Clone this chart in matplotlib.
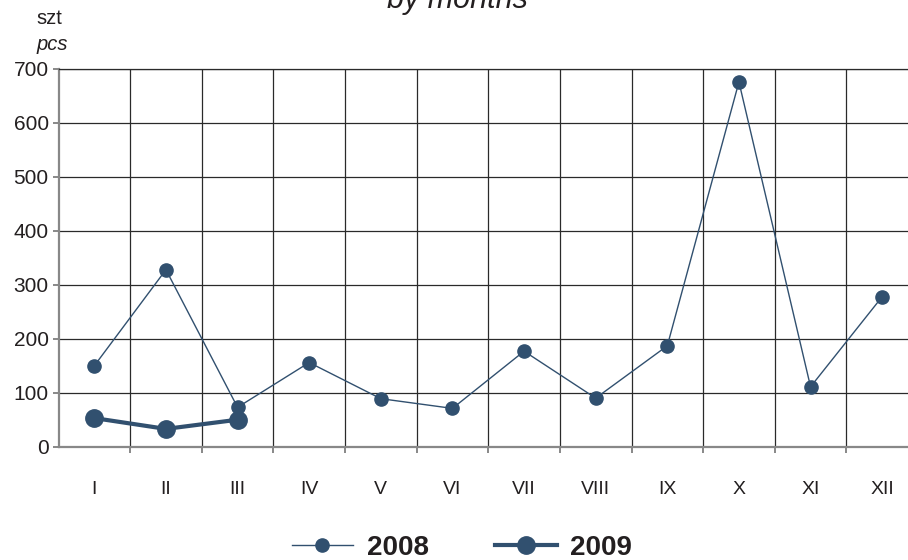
import matplotlib
matplotlib.use("Agg")
import matplotlib.pyplot as plt
from matplotlib.lines import Line2D
import numpy as np

months = ["I", "II", "III", "IV", "V", "VI", "VII", "VIII", "IX", "X", "XI", "XII"]
sales_2008 = [150, 328, 73, 156, 89, 71, 177, 90, 187, 676, 111, 278]
sales_2009 = [53, 33, 50]

navy = "#31506f"
plt.rcParams["font.family"] = ["Liberation Sans", "DejaVu Sans"]

fig = plt.figure(figsize=(9.08, 5.6), dpi=100)
ax = fig.add_axes([58.5 / 908, 1 - 446.7 / 560, (918 - 58.5) / 908, (446.7 - 69) / 560])

x = np.arange(len(months))
ax.plot(x, sales_2008, color=navy, lw=1.0, marker="o", ms=9.5, zorder=3)
ax.plot(x[:len(sales_2009)], sales_2009, color=navy, lw=3.0, marker="o", ms=12.5, zorder=4)

ax.set_xlim(-0.5, len(months) - 0.5)
ax.set_ylim(0, 700)
ax.set_yticks(range(0, 701, 100))
ax.set_xticks(x)
ax.set_xticklabels(months)
ax.set_xticks(np.arange(0.5, len(months) - 0.5, 1), minor=True)

ax.grid(True, which="minor", axis="x", color="#2a2a2a", lw=0.9)
ax.grid(True, which="major", axis="y", color="#2a2a2a", lw=0.9)
ax.set_axisbelow(True)

ax.spines["right"].set_visible(False)
ax.spines["top"].set_color("#2a2a2a")
ax.spines["top"].set_linewidth(0.9)
for s in ["left", "bottom"]:
    ax.spines[s].set_color("#888888")
    ax.spines[s].set_linewidth(1.6)

ax.tick_params(axis="y", direction="out", length=4, width=1.4, color="#888888",
               labelsize=15, labelcolor="#231f20", pad=3)
ax.tick_params(axis="x", which="major", length=0, labelsize=14, labelcolor="#231f20", pad=25)
ax.tick_params(axis="x", which="minor", direction="out", length=4, width=1.4, color="#888888")

fig.text(457 / 908, 1 - 0 / 560, "by months", style="italic", fontsize=22,
         ha="center", va="center", color="#231f20")
fig.text(36 / 908, 1 - 18 / 560, "szt", fontsize=14.5, ha="left", va="center", color="#231f20")
fig.text(36 / 908, 1 - 44 / 560, "pcs", fontsize=14.5, style="italic", ha="left", va="center",
         color="#231f20")

handles = [
    Line2D([], [], color=navy, lw=1.0, marker="o", ms=9.5),
    Line2D([], [], color=navy, lw=3.0, marker="o", ms=12.5),
]
fig.legend(handles, ["2008", "2009"], loc="center", bbox_to_anchor=(462 / 908, 1 - 548 / 560),
           ncol=2, frameon=False, prop={"weight": "bold", "size": 20}, handlelength=2.2,
           columnspacing=2.4, handletextpad=0.5, labelcolor="#231f20")

fig.savefig("out.png", dpi=100)
